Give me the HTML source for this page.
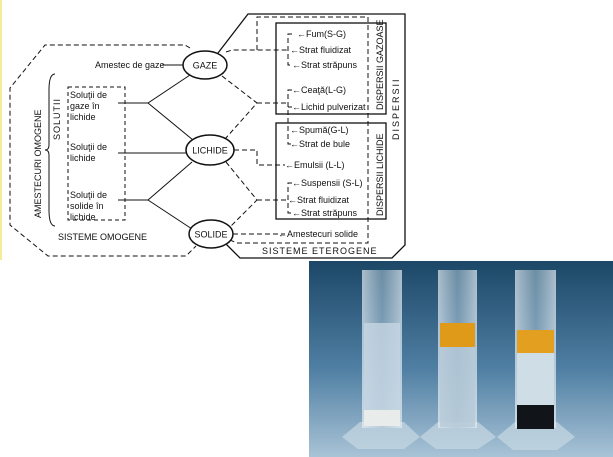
<!DOCTYPE html>
<html><head><meta charset="utf-8"><style>
html,body{margin:0;padding:0;background:#fff;}
svg{display:block}
text{font-family:"Liberation Sans",sans-serif;font-size:9px;fill:#111}
</style></head><body>
<svg width="613" height="457" viewBox="0 0 613 457" xmlns="http://www.w3.org/2000/svg">
<defs>
<linearGradient id="bg" x1="0" y1="0" x2="0" y2="1"><stop offset="0" stop-color="#1c4767"/><stop offset="0.55" stop-color="#4f7fa3"/><stop offset="1" stop-color="#a9c3d6"/></linearGradient>
<linearGradient id="gl" x1="0" y1="0" x2="1" y2="0"><stop offset="0" stop-color="#e6eef4" stop-opacity=".7"/><stop offset=".5" stop-color="#b9cfdd" stop-opacity=".5"/><stop offset="1" stop-color="#e6eef4" stop-opacity=".7"/></linearGradient>
</defs>
<rect x="0" y="0" width="2" height="260" fill="#f3ec9a"/>
<g fill="none" stroke="#111" stroke-width="1">
<!-- left dashed polygon -->
<path d="M190,48 L185,45 L45,45 L10,88 L10,225 L48,256 L186,256 L196,246" stroke-dasharray="5,3"/>
<rect x="68" y="87" width="57" height="133" stroke-dasharray="4,3"/>
<path d="M55,74 Q49,74 49,90 L49,145 Q49,150 45,150 Q49,150 49,155 L49,210 Q49,226 55,226" />
<!-- solid links -->
<path d="M118,103 L148,103 L190,75 M148,103 L193,140 M118,153 L186,153 M118,200 L148,200 L192,162 M148,200 L192,229"/>
<!-- right dashed -->
<g stroke-dasharray="5,3">
<path d="M222,76 L257,103 L225,139 M257,103 L288,103"/>
<path d="M226,162 L257,200 L228,229 M257,200 L288,200"/>
<path d="M234,150 L257,150 L257,165 L285,165"/>
<path d="M233,234 L285,234"/>
<path d="M226,52 L232,50 L288,50"/>
<path d="M257,50 L257,17 L368,17 L368,243 L237,243 L230,240"/>
<path d="M292,34 L288,34 L288,65 L292,65 M292,90 L288,90 L288,144 L292,144 M292,107 L288,107 M292,183 L288,183 L288,213 L292,213"/>
</g>
<!-- solid outer -->
<path d="M218,53 L248,14 L405,14 L405,245 L392,258 L240,258 L226,244" stroke-width="1.3"/>
<rect x="276" y="23" width="110" height="91" stroke-width="1.3"/>
<rect x="276" y="123" width="110" height="96" stroke-width="1.3"/>
<ellipse cx="205" cy="65" rx="22" ry="14" stroke-width="1.5" fill="#fff"/>
<ellipse cx="210" cy="150" rx="24" ry="15" stroke-width="1.5" fill="#fff"/>
<ellipse cx="211" cy="234" rx="22" ry="14" stroke-width="1.5" fill="#fff"/>
<path d="M162,65 L183,65"/>
</g>
<text x="205" y="68.5" text-anchor="middle">GAZE</text>
<text x="210" y="153.5" text-anchor="middle">LICHIDE</text>
<text x="211" y="237.5" text-anchor="middle">SOLIDE</text>
<text x="95" y="68" font-size="8.5">Amestec de gaze</text>
<text x="70" y="98">Soluţii de</text><text x="70" y="109">gaze în</text><text x="70" y="120">lichide</text>
<text x="70" y="150">Soluţii de</text><text x="70" y="161">lichide</text>
<text x="70" y="198">Soluţii de</text><text x="70" y="209">solide în</text><text x="70" y="220">lichide</text>
<text x="58" y="240">SISTEME OMOGENE</text>
<text x="262" y="254" letter-spacing="1">SISTEME ETEROGENE</text>
<text transform="translate(41,218) rotate(-90)">AMESTECURI OMOGENE</text>
<text transform="translate(60,140) rotate(-90)" letter-spacing="1">SOLUTII</text>
<text transform="translate(383,110) rotate(-90)" font-size="8.5">DISPERSII GAZOASE</text>
<text transform="translate(383,216) rotate(-90)" font-size="8.5">DISPERSII LICHIDE</text>
<text transform="translate(399,140) rotate(-90)" letter-spacing="2">DISPERSII</text>
<g font-size="8.5">
<text x="297" y="37">←Fum(S-G)</text>
<text x="290" y="53">←Strat fluidizat</text>
<text x="292" y="68">←Strat străpuns</text>
<text x="292" y="93">←Ceaţă(L-G)</text>
<text x="292" y="110">←Lichid pulverizat</text>
<text x="290" y="133">←Spumă(G-L)</text>
<text x="290" y="147">←Strat de bule</text>
<text x="285" y="168">←Emulsii (L-L)</text>
<text x="292" y="186">←Suspensii (S-L)</text>
<text x="288" y="203">←Strat fluidizat</text>
<text x="292" y="216">←Strat străpuns</text>
<text x="278" y="237">←Amestecuri solide</text>
</g>
<!-- photo -->
<rect x="309" y="261" width="304" height="196" fill="url(#bg)"/>
<g>
<path d="M342,437 L360,422 L404,422 L420,437 L404,449 L358,449 Z" fill="#c8d8e2" opacity=".7"/>
<path d="M420,437 L438,422 L478,422 L496,437 L478,449 L436,449 Z" fill="#c8d8e2" opacity=".7"/>
<path d="M497,437 L515,422 L557,422 L575,437 L557,450 L513,450 Z" fill="#c8d8e2" opacity=".7"/>
<rect x="362" y="270" width="40" height="158" fill="url(#gl)"/>
<rect x="364" y="323" width="36" height="102" fill="#c5d6e2" opacity=".8"/>
<rect x="364" y="410" width="36" height="16" fill="#e8ecea"/>
<rect x="438" y="270" width="39" height="158" fill="url(#gl)"/>
<rect x="440" y="323" width="35" height="24" fill="#e09a1a"/>
<rect x="440" y="347" width="35" height="80" fill="#b8cbd8" opacity=".8"/>
<rect x="515" y="270" width="41" height="158" fill="url(#gl)"/>
<rect x="517" y="330" width="37" height="23" fill="#e3a020"/>
<rect x="517" y="353" width="37" height="52" fill="#cfdde6"/>
<rect x="517" y="405" width="37" height="24" fill="#111418"/>
</g>
</svg>
</body></html>
